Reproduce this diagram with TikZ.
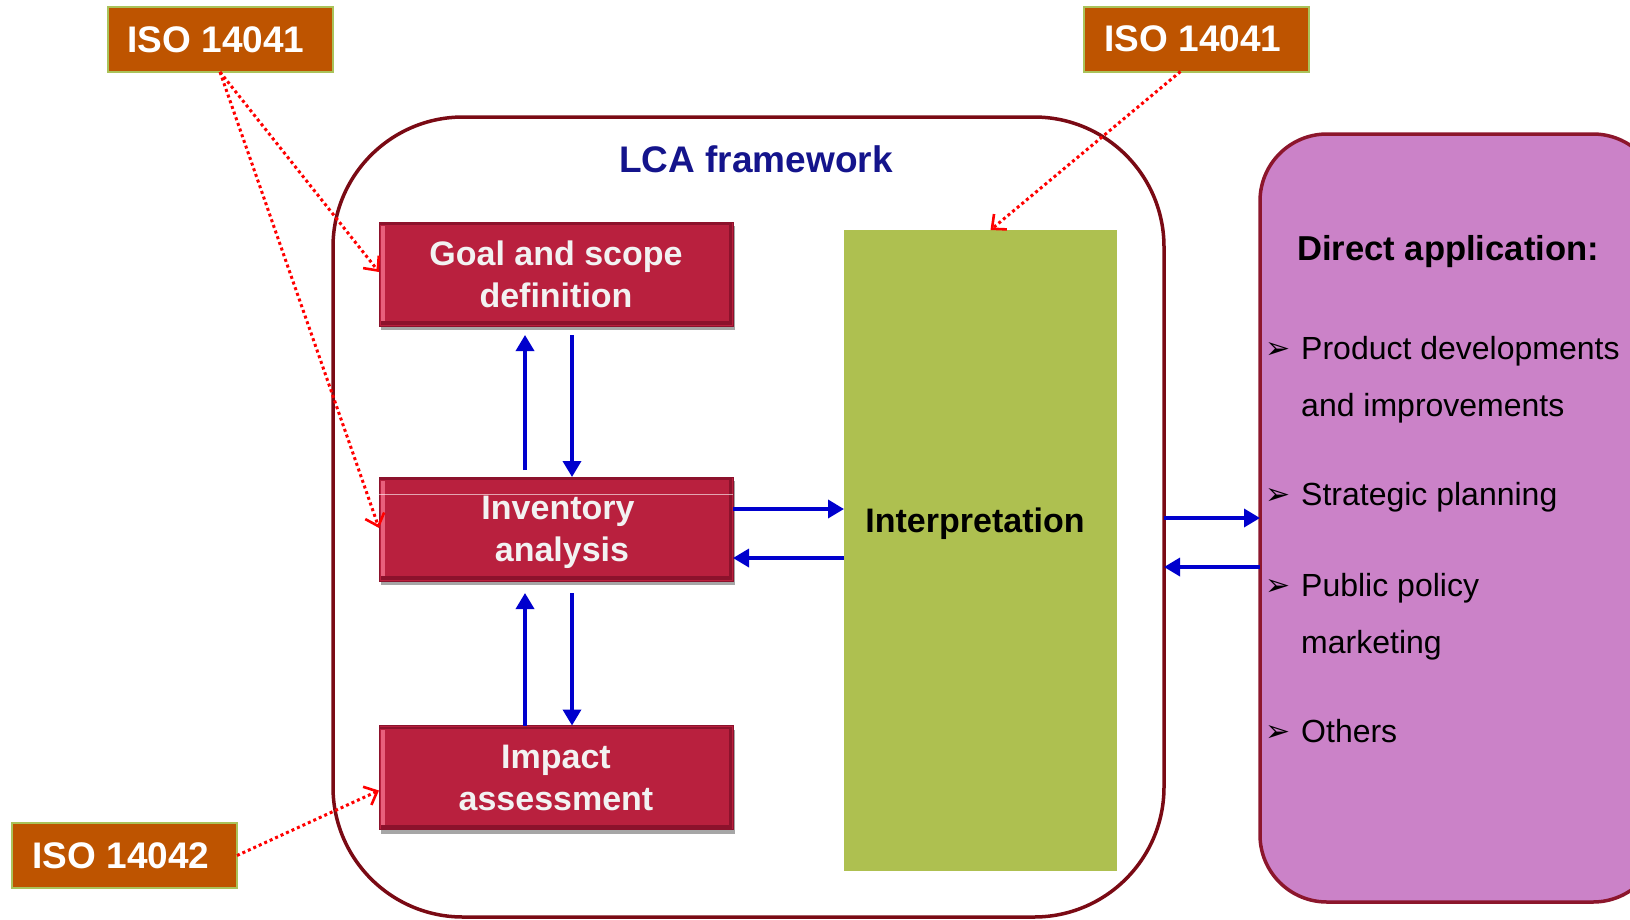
\documentclass[tikz,border=0pt]{standalone}
\usepackage{fontspec}
\setmainfont{Liberation Sans}
\newfontfamily\dingfont{DejaVu Sans}
\usetikzlibrary{arrows.meta,shadows,calc}

\definecolor{phasered}{RGB}{185,32,62}
\definecolor{phaselight}{RGB}{232,96,124}
\definecolor{phasedark}{RGB}{140,18,44}
\definecolor{isoorange}{RGB}{190,84,0}
\definecolor{isoedge}{RGB}{170,195,90}
\definecolor{interpgreen}{RGB}{174,192,80}
\definecolor{appviolet}{RGB}{203,130,200}
\definecolor{frameline}{RGB}{122,10,20}
\definecolor{violetline}{RGB}{140,22,44}
\definecolor{titleblue}{RGB}{20,20,140}
\definecolor{flowblue}{RGB}{0,0,205}

\tikzset{
  phase/.style={rectangle, fill=phasered, draw=phasedark, line width=0.8pt,
    minimum width=354pt, minimum height=104pt, inner sep=0pt, outer sep=0pt,
    drop shadow={shadow xshift=2pt, shadow yshift=-4pt, opacity=0.35, fill=black}},
  phasetext/.style={align=center, text=white!95!black, inner sep=0pt,
    font=\fontsize{34}{42}\selectfont\bfseries},
  isobox/.style={rectangle, fill=isoorange, draw=isoedge, line width=2pt,
    minimum width=225pt, minimum height=65pt, inner sep=0pt, outer sep=0pt},
  isotext/.style={text=white, inner sep=0pt, font=\fontsize{37}{40}\selectfont\bfseries},
  isoarrow/.style={draw=red, line width=3pt, dash pattern=on 3pt off 3pt,
    -{Straight Barb[length=11pt,width=20pt,line width=2.6pt]}},
  flow/.style={draw=flowblue, line width=3.5pt,
    -{Triangle[length=16pt,width=18pt]}},
  itemtext/.style={anchor=base west, inner sep=0pt, font=\fontsize{32}{36}\selectfont},
  itemmark/.style={anchor=base west, inner sep=0pt, font=\dingfont\fontsize{30}{32}\selectfont}
}

\begin{document}
\begin{tikzpicture}[x=1pt,y=-1pt]
\useasboundingbox (0,0) rectangle (1630,919);
\clip (0,0) rectangle (1630,919);

% LCA framework outline
\node[rectangle, draw=frameline, line width=3.5pt, rounded corners=130pt,
  minimum width=831pt, minimum height=800pt, inner sep=0pt, outer sep=0pt]
  (frame) at (748.5,517) {};
\node[font=\fontsize{37}{40}\selectfont\bfseries, text=titleblue]
  (title) at (756,159) {LCA framework};

% direct application panel
\node[rectangle, fill=appviolet, draw=violetline, line width=3.5pt, rounded corners=67pt,
  minimum width=400pt, minimum height=768pt, inner sep=0pt, outer sep=0pt]
  (apps) at (1460,518) {};
\node[anchor=base west, inner sep=0pt, font=\fontsize{34.6}{36}\selectfont\bfseries]
  (appstitle) at (1297,260) {Direct application:};

\node[itemmark] (m1) at (1265,358) {➢};
\node[itemtext] (t1a) at (1301,359) {Product developments};
\node[itemtext] (t1b) at (1301,416) {and improvements};
\node[itemmark] (m2) at (1265,504) {➢};
\node[itemtext] (t2) at (1301,505) {Strategic planning};
\node[itemmark] (m3) at (1265,595) {➢};
\node[itemtext] (t3a) at (1301,596) {Public policy};
\node[itemtext] (t3b) at (1301,653) {marketing};
\node[itemmark] (m4) at (1265,741) {➢};
\node[itemtext] (t4) at (1301,742) {Others};

% interpretation
\node[rectangle, fill=interpgreen, minimum width=273pt, minimum height=641pt,
  inner sep=0pt, outer sep=0pt]
  (interp) at (980.5,550.5) {};
\node[font=\fontsize{34}{38}\selectfont\bfseries] (interplabel) at (975,524) {Interpretation};

% phases
\node[phase] (goal) at (556,274) {};
\node[phase] (inv) at (556,529) {};
\node[phase] (impact) at (556,777.5) {};

% bevelled edges of the phase boxes
\foreach \b in {goal,inv,impact}{
  \fill[phaselight] ([xshift=2pt,yshift=-4pt]\b.north west) rectangle ([xshift=6pt,yshift=4pt]\b.south west);
  \fill[phasedark] ([xshift=2pt,yshift=5pt]\b.south west) rectangle ([xshift=-1pt,yshift=1pt]\b.south east);
  \fill[phasedark] ([xshift=-4pt,yshift=-2pt]\b.north east) rectangle ([xshift=-1pt,yshift=2pt]\b.south east);
  \fill[phasedark] ([xshift=1pt,yshift=-1pt]\b.north west) rectangle ([xshift=-1pt,yshift=-3pt]\b.north east);
}
\draw[white, opacity=0.6, line width=0.6pt] ([xshift=-9pt,yshift=-17pt]inv.north west) -- ([yshift=-17pt]inv.north east);

\node[phasetext] (goallabel) at (556,274) {Goal and scope\\definition};
\node[phasetext] (invlabel) at (558,532) {Inventory\\\hspace*{8pt}analysis};
\node[phasetext] (impactlabel) at (556,778) {Impact\\assessment};

% flows between phases
\draw[flow] ([xshift=-31pt,yshift=7pt]inv.north) -- ([xshift=-31pt,yshift=-9pt]goal.south);
\draw[flow] ([xshift=16pt,yshift=-9pt]goal.south) -- ([xshift=16pt]inv.north);
\draw[flow] ([xshift=-31pt]impact.north) -- ([xshift=-31pt,yshift=-12pt]inv.south);
\draw[flow] ([xshift=16pt,yshift=-12pt]inv.south) -- ([xshift=16pt]impact.north);

\coordinate (invout) at ([yshift=20pt]inv.east);
\coordinate (invin) at ([yshift=-29pt]inv.east);
\draw[flow] (invout) -- (invout -| interp.west);
\draw[flow] (invin -| interp.west) -- (invin);

\coordinate (frout) at ([yshift=-1pt]frame.east);
\coordinate (frin) at ([yshift=-50pt]frame.east);
\draw[flow] (frout) -- (frout -| apps.west);
\draw[flow] (frin -| apps.west) -- (frin);

% ISO standards
\node[isobox] (iso1) at (220,39.5) {};
\node[isobox] (iso2) at (1196.5,39) {};
\node[isobox] (iso3) at (124.5,855.5) {};
\node[isotext] (iso1label) at (216,39.5) {ISO 14041};
\node[isotext] (iso2label) at (1193,39) {ISO 14041};
\node[isotext] (iso3label) at (121,855.5) {ISO 14042};

\draw[isoarrow] (iso1.south) -- ([yshift=2pt]goal.west);
\draw[isoarrow] (iso1.south) -- ([yshift=1pt]inv.west);
\draw[isoarrow] ([xshift=-16pt]iso2.south) -- ([xshift=10pt]interp.north);
\draw[isoarrow] (iso3.east) -- ([yshift=-13pt]impact.west);
\end{tikzpicture}
\end{document}
